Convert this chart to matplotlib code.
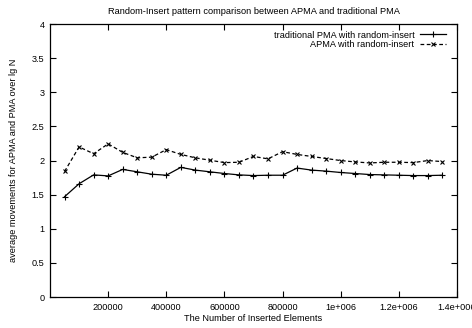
import numpy as np
import matplotlib
matplotlib.use('Agg')
import matplotlib.pyplot as plt
from matplotlib.ticker import FixedLocator

### Data ###
n_inserted = np.arange(50000, 1350001, 50000)
traditional_pma = [1.47, 1.66, 1.79, 1.775, 1.87, 1.835, 1.80, 1.785, 1.90, 1.86,
                   1.835, 1.81, 1.79, 1.78, 1.785, 1.785, 1.89, 1.86, 1.845, 1.825,
                   1.81, 1.795, 1.79, 1.785, 1.78, 1.78, 1.785]
apma = [1.84, 2.20, 2.10, 2.245, 2.12, 2.04, 2.05, 2.16, 2.09, 2.04,
        2.005, 1.97, 1.975, 2.06, 2.025, 2.13, 2.09, 2.06, 2.03, 2.00,
        1.98, 1.965, 1.975, 1.975, 1.97, 2.00, 1.985]

x_ticks = [200000, 400000, 600000, 800000, 1000000, 1200000, 1400000]
x_labels = ['200000', '400000', '600000', '800000', '1e+006', '1.2e+006', '1.4e+006']
y_ticks = [0, 0.5, 1, 1.5, 2, 2.5, 3, 3.5, 4]
y_labels = ['0', '0.5', '1', '1.5', '2', '2.5', '3', '3.5', '4']

### Style ###
plt.rcParams['font.family'] = ['Liberation Sans', 'DejaVu Sans']
plt.rcParams['font.size'] = 6.6

fig = plt.figure(figsize=(4.72, 3.28), dpi=100)
ax = fig.add_axes([0.106, 0.0945, 0.862, 0.832])

ax.plot(n_inserted, traditional_pma, color='black', lw=0.9, marker='+', ms=4,
        mew=0.8, label='traditional PMA with random-insert')
ax.plot(n_inserted, apma, color='black', lw=0.9, ls=(0, (3, 2)), marker='x', ms=3.2,
        mew=0.8, label='APMA with random-insert')

ax.set_xlim(0, 1400000)
ax.set_ylim(0, 4)
ax.xaxis.set_major_locator(FixedLocator(x_ticks))
ax.set_xticklabels(x_labels)
ax.set_yticks(y_ticks)
ax.set_yticklabels(y_labels)
ax.tick_params(direction='in', length=4, width=0.8, top=True, right=True,
               labelsize=6.6, pad=4)
for s in ax.spines.values():
    s.set_linewidth(0.9)

ax.set_title('Random-Insert pattern comparison between APMA and traditional PMA',
             fontsize=6.7, pad=7)
ax.set_xlabel('The Number of Inserted Elements', fontsize=6.6, labelpad=2)
ax.set_ylabel('average movements for APMA and PMA over lg N', fontsize=6.6, labelpad=10)

ax.legend(loc='upper right', bbox_to_anchor=(0.988, 1.0), frameon=False,
          markerfirst=False, numpoints=1, handlelength=2.8, handletextpad=0.6,
          labelspacing=0.05, fontsize=6.6, borderaxespad=0.3)

fig.savefig('out.png', dpi=100)
